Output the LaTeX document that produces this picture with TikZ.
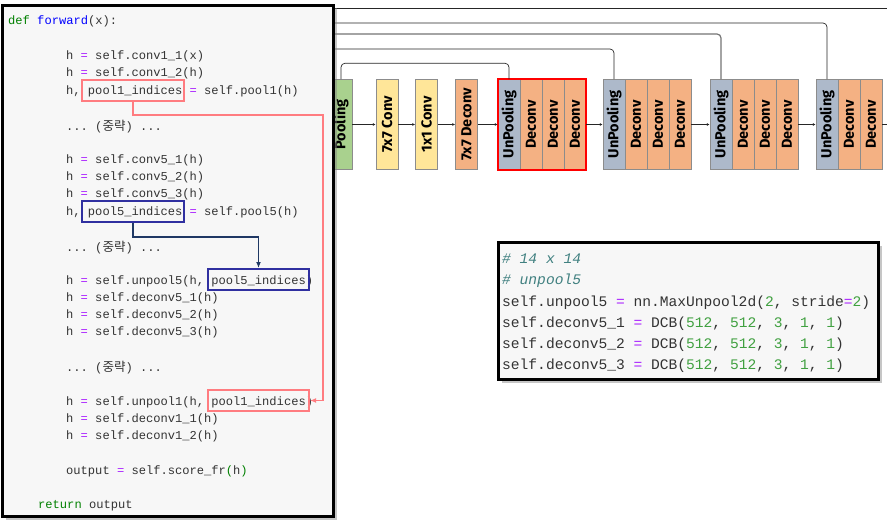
\documentclass[tikz,border=0pt]{standalone}
\usepackage{fontspec}
\setmonofont{Liberation Mono}
\newfontfamily\korfont{Noto Sans CJK KR}
\newfontfamily\blockfont{Fira Sans}
\usetikzlibrary{arrows.meta,shadows}

\definecolor{kwgreen}{RGB}{0,128,0}
\definecolor{fnblue}{RGB}{0,0,255}
\definecolor{oppurple}{RGB}{170,34,255}
\definecolor{codegray}{RGB}{51,51,51}
\definecolor{cmteal}{RGB}{64,128,128}
\definecolor{numgreen}{RGB}{64,160,64}
\definecolor{poolgreen}{RGB}{169,209,142}
\definecolor{convyellow}{RGB}{255,230,153}
\definecolor{deconvorange}{RGB}{244,177,131}
\definecolor{unpoolgray}{RGB}{173,185,202}
\definecolor{markred}{RGB}{255,124,128}
\definecolor{markblue}{RGB}{48,48,160}
\definecolor{linknavy}{RGB}{31,56,100}

\newcommand{\opeq}{\textcolor{oppurple}{=}}
\newcommand{\kw}[1]{\textcolor{kwgreen}{#1}}
\newcommand{\nm}[1]{\textcolor{numgreen}{#1}}
\newcommand{\skipped}{... ({\korfont\fontsize{12.5}{12.5}\selectfont 중략}) ...}

\tikzset{
  block/.style={draw=black!45, line width=0.5pt, minimum width=22pt, minimum height=90pt,
    inner sep=0pt, font=\blockfont\bfseries\fontsize{14.5}{14.5}\selectfont},
  poolbox/.style={block, fill=poolgreen},
  convbox/.style={block, fill=convyellow},
  deconvbox/.style={block, fill=deconvorange},
  unpoolbox/.style={block, fill=unpoolgray},
  flow/.style={draw=black!85, line width=0.6pt, -{Latex[length=3pt,width=3pt]}},
  skipline/.style={draw=black!85, line width=0.7pt, rounded corners=4pt},
  codebox/.style={draw=black, line width=3.5pt, fill=black!3,
    drop shadow={shadow xshift=3pt, shadow yshift=-3pt, opacity=0.45}},
  code/.style={anchor=base west, inner sep=0pt, text=codegray,
    font=\ttfamily\fontsize{12.1}{14}\selectfont},
  bigcode/.style={anchor=base west, inner sep=0pt, text=codegray,
    font=\ttfamily\fontsize{14.6}{17}\selectfont},
  idxmark/.style={line width=2pt, minimum width=102pt, minimum height=21pt, inner sep=0pt},
}

\begin{document}
\begin{tikzpicture}[x=1pt,y=-1pt]
  \useasboundingbox (0,0) rectangle (887,524);

  % network
  \node[poolbox] (pool) at (341,124.5) {\rotatebox{90}{Pooling}};
  \node[convbox] (cva) at (387,124.5) {\rotatebox{90}{7x7 Conv}};
  \node[convbox] (cvb) at (426.5,124.5) {\rotatebox{90}{1x1 Conv}};
  \node[deconvbox] (dcv) at (466.5,124.5) {\rotatebox{90}{7x7 Deconv}};
  \foreach \g/\s/\n in {1/498/3, 2/603/3, 3/710/3, 4/816/2} {
    \node[unpoolbox] (un\g) at (\s+11,124.5) {\rotatebox{90}{UnPooling}};
    \foreach \k in {1,...,\n}
      \node[deconvbox] (dc\g\k) at (\s+11+22*\k,124.5) {\rotatebox{90}{Deconv}};
  }
  \draw[red, line width=2pt] (un1.north west) rectangle (dc13.south east);

  \draw[flow] (pool) -- (cva);
  \draw[flow] (cva) -- (cvb);
  \draw[flow] (cvb) -- (dcv);
  \draw[flow] (dcv) -- (un1);
  \draw[flow] (dc13) -- (un2);
  \draw[flow] (dc23) -- (un3);
  \draw[flow] (dc33) -- (un4);
  \coordinate (outR) at (887,124.5);
  \draw[draw=black!85, line width=0.6pt] (dc42) -- (outR);

  % skip connections
  \coordinate (skb) at (330,49);
  \coordinate (skc) at (330,34);
  \coordinate (skd) at (330,23);
  \coordinate (ske) at (330,8);
  \coordinate (skeR) at (887,8);
  \draw[skipline] (pool.north) -- ++(0,-16) -| (un1.north);
  \draw[skipline] (skb) -| (un2.north);
  \draw[skipline, draw=black!55, line width=1.2pt] (skc) -| (un3.north);
  \draw[skipline] (skd) -| (un4.north);
  \draw[skipline] (ske) -- (skeR);

  % forward() code
  \draw[codebox] (2.5,5.5) rectangle (333.5,516.5);
  \node[code] (c0) at (8,24.5) {\kw{def} \textcolor{fnblue}{forward}(x):};
  \node[code] (c1) at (66,59.5) {h \opeq{} self.conv1\_1(x)};
  \node[code] (c2) at (66,76.5) {h \opeq{} self.conv1\_2(h)};
  \node[code] (c3) at (66,94.5) {h, pool1\_indices \opeq{} self.pool1(h)};
  \node[code] (c4) at (66,130.5) {\skipped};
  \node[code] (c5) at (66,163.5) {h \opeq{} self.conv5\_1(h)};
  \node[code] (c6) at (66,180.5) {h \opeq{} self.conv5\_2(h)};
  \node[code] (c7) at (66,197.5) {h \opeq{} self.conv5\_3(h)};
  \node[code] (c8) at (66,215.5) {h, pool5\_indices \opeq{} self.pool5(h)};
  \node[code] (c9) at (66,251.5) {\skipped};
  \node[code] (c10) at (66,284.5) {h \opeq{} self.unpool5(h, pool5\_indices)};
  \node[code] (c11) at (66,301.5) {h \opeq{} self.deconv5\_1(h)};
  \node[code] (c12) at (66,318.5) {h \opeq{} self.deconv5\_2(h)};
  \node[code] (c13) at (66,335.5) {h \opeq{} self.deconv5\_3(h)};
  \node[code] (c14) at (66,371.5) {\skipped};
  \node[code] (c15) at (66,405.5) {h \opeq{} self.unpool1(h, pool1\_indices)};
  \node[code] (c16) at (66,422.5) {h \opeq{} self.deconv1\_1(h)};
  \node[code] (c17) at (66,439.5) {h \opeq{} self.deconv1\_2(h)};
  \node[code] (c18) at (66,474.5) {output \opeq{} self.score\_fr\textcolor{kwgreen}{(}h\textcolor{kwgreen}{)}};
  \node[code] (c19) at (38,508.5) {\kw{return} output};

  % index marks
  \node[idxmark, draw=markred] (pa) at (133,90.5) {};
  \node[idxmark, draw=markblue] (pb) at (133,211.5) {};
  \node[idxmark, draw=markblue, minimum width=101pt] (pc) at (258.5,279.5) {};
  \node[idxmark, draw=markred, minimum width=101pt] (pd) at (258.5,400.5) {};
  \draw[markred, line width=1.5pt, -{Latex[length=6pt,width=5pt]}]
    (pa.south) |- (323,115) |- (pd.east);
  \draw[linknavy, line width=1.5pt, -{Latex[length=6pt,width=5pt]}]
    (pb.south) -- ++(0,14) -| (pc.north);

  % unpool5 code
  \draw[codebox] (498.5,242.5) rectangle (878.5,379.5);
  \node[bigcode] (r1) at (502,263) {\textcolor{cmteal}{\itshape \# 14 x 14}};
  \node[bigcode] (r2) at (502,284) {\textcolor{cmteal}{\itshape \# unpool5}};
  \node[bigcode] (r3) at (502,306) {self.unpool5 \opeq{} nn.MaxUnpool2d(\nm{2}, stride\opeq\nm{2})};
  \node[bigcode] (r4) at (502,327) {self.deconv5\_1 \opeq{} DCB(\nm{512}, \nm{512}, \nm{3}, \nm{1}, \nm{1})};
  \node[bigcode] (r5) at (502,348) {self.deconv5\_2 \opeq{} DCB(\nm{512}, \nm{512}, \nm{3}, \nm{1}, \nm{1})};
  \node[bigcode] (r6) at (502,369) {self.deconv5\_3 \opeq{} DCB(\nm{512}, \nm{512}, \nm{3}, \nm{1}, \nm{1})};
\end{tikzpicture}
\end{document}
